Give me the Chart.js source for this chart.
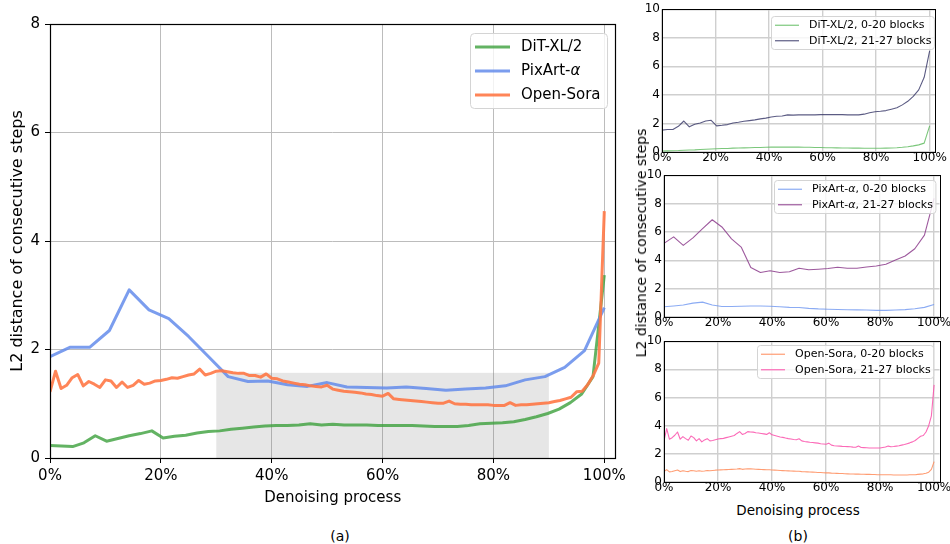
<!DOCTYPE html>
<html>
<head>
<meta charset="utf-8">
<script src="https://cdn.jsdelivr.net/npm/chart.js@4.4.1/dist/chart.umd.min.js"></script>
<style>
    body { margin: 0; background: #fff; font-family: "DejaVu Sans", sans-serif; }
    #wrap { position: relative; width: 950px; height: 544px; overflow: hidden; background: #fff; }
    canvas { position: absolute; }
    .lbl { position: absolute; color: #000; white-space: nowrap; transform: translate(-50%, -50%); }
</style>
</head>
<body>
<div id="wrap">
    <canvas id="main" width="630" height="515" style="left:0px;top:0px"></canvas>
    <canvas id="sub1" width="320" height="166" style="left:640px;top:0px"></canvas>
    <canvas id="sub2" width="320" height="166" style="left:640px;top:166px"></canvas>
    <canvas id="sub3" width="320" height="170" style="left:640px;top:332px"></canvas>
    <div class="lbl" style="left:641px;top:243px;font-size:14px;transform:translate(-50%,-50%) rotate(-90deg)">L2 distance of consecutive steps</div>
    <div class="lbl" style="left:798px;top:510px;font-size:13.5px">Denoising process</div>
    <div class="lbl" style="left:340px;top:536px;font-size:14px">(a)</div>
    <div class="lbl" style="left:798px;top:536px;font-size:14px">(b)</div>
</div>
<script>
// x ticks (percent of denoising process) and y ticks
const xTicks = [0, 20, 40, 60, 80, 100];
const mainYTicks = [0, 2, 4, 6, 8];
const subYTicks = [0, 2, 4, 6, 8, 10];

// shaded span in (a): from 30% to 90%, up to this height
const spanStart = 30;
const spanEnd = 90;
const spanTop = 1.57;

// (a) whole-model distances
const ditAll = [0.23, 0.22, 0.21, 0.28, 0.41, 0.31, 0.36, 0.41, 0.45, 0.50,
    0.37, 0.40, 0.42, 0.46, 0.49, 0.50, 0.53, 0.55, 0.57, 0.59,
    0.60, 0.60, 0.61, 0.63, 0.61, 0.62, 0.61, 0.61, 0.61, 0.60,
    0.60, 0.60, 0.60, 0.59, 0.58, 0.58, 0.58, 0.60, 0.63, 0.64,
    0.65, 0.67, 0.71, 0.76, 0.82, 0.90, 1.02, 1.18, 1.50, 3.37];
const pixartAll = [1.87, 2.04, 2.04, 2.35, 3.10, 2.73, 2.57, 2.24, 1.87, 1.50,
    1.41, 1.42, 1.35, 1.32, 1.39, 1.31, 1.30, 1.29, 1.31, 1.28,
    1.25, 1.27, 1.29, 1.33, 1.44, 1.50, 1.67, 1.98, 2.77];
const soraAll = [1.22, 1.60, 1.28, 1.34, 1.48, 1.54, 1.33, 1.41, 1.36, 1.30,
    1.44, 1.42, 1.30, 1.40, 1.30, 1.34, 1.43, 1.36, 1.38, 1.42,
    1.43, 1.45, 1.48, 1.47, 1.50, 1.53, 1.55, 1.64, 1.53, 1.56,
    1.60, 1.61, 1.59, 1.57, 1.56, 1.56, 1.52, 1.52, 1.49, 1.55,
    1.47, 1.46, 1.42, 1.40, 1.38, 1.36, 1.35, 1.33, 1.32, 1.31,
    1.34, 1.27, 1.25, 1.23, 1.22, 1.21, 1.20, 1.18, 1.17, 1.15,
    1.14, 1.19, 1.09, 1.08, 1.07, 1.06, 1.05, 1.04, 1.03, 1.02,
    1.01, 1.01, 1.05, 1.00, 0.99, 0.99, 0.98, 0.98, 0.98, 0.98,
    0.97, 0.97, 0.97, 1.02, 0.97, 0.98, 0.98, 0.99, 1.00, 1.01,
    1.02, 1.04, 1.06, 1.09, 1.12, 1.22, 1.23, 1.35, 1.52, 1.75,
    4.55];

// (b) split by blocks
const ditLow = [0.07, 0.08, 0.09, 0.10, 0.12, 0.14, 0.15, 0.17, 0.19, 0.21,
    0.23, 0.24, 0.25, 0.27, 0.28, 0.29, 0.30, 0.31, 0.32, 0.33,
    0.34, 0.34, 0.34, 0.34, 0.34, 0.34, 0.33, 0.33, 0.32, 0.31,
    0.30, 0.30, 0.29, 0.28, 0.28, 0.27, 0.27, 0.26, 0.26, 0.26,
    0.26, 0.27, 0.28, 0.30, 0.33, 0.37, 0.43, 0.50, 0.62, 1.83];
const ditHigh = [1.53, 1.58, 1.58, 1.80, 2.17, 1.76, 1.94, 2.03, 2.17, 2.22,
    1.83, 1.87, 1.92, 2.03, 2.08, 2.15, 2.20, 2.25, 2.32, 2.37,
    2.45, 2.50, 2.52, 2.60, 2.58, 2.60, 2.60, 2.60, 2.60, 2.62,
    2.62, 2.62, 2.62, 2.62, 2.60, 2.60, 2.60, 2.65, 2.75, 2.82,
    2.85, 2.90, 3.00, 3.10, 3.30, 3.55, 3.90, 4.35, 5.23, 7.08];
const pixartLow = [0.72, 0.78, 0.85, 0.98, 1.05, 0.85, 0.74, 0.74, 0.76, 0.78,
    0.78, 0.76, 0.72, 0.68, 0.67, 0.61, 0.57, 0.55, 0.53, 0.51,
    0.50, 0.49, 0.47, 0.47, 0.49, 0.52, 0.58, 0.68, 0.88];
const pixartHigh = [5.19, 5.65, 5.05, 5.58, 6.23, 6.86, 6.35, 5.51, 4.93, 3.49,
    3.14, 3.26, 3.14, 3.19, 3.44, 3.33, 3.37, 3.42, 3.51, 3.44,
    3.44, 3.53, 3.60, 3.72, 4.02, 4.30, 4.81, 5.77, 8.37];
const soraLow = [0.75, 0.88, 0.72, 0.75, 0.80, 0.85, 0.74, 0.80, 0.76, 0.74,
    0.82, 0.80, 0.76, 0.80, 0.76, 0.78, 0.82, 0.80, 0.82, 0.84,
    0.85, 0.86, 0.87, 0.88, 0.89, 0.90, 0.91, 0.92, 0.95, 0.90,
    0.92, 0.94, 0.93, 0.92, 0.91, 0.90, 0.89, 0.88, 0.87, 0.87,
    0.85, 0.84, 0.83, 0.82, 0.81, 0.80, 0.79, 0.78, 0.77, 0.76,
    0.76, 0.74, 0.73, 0.72, 0.71, 0.70, 0.69, 0.68, 0.67, 0.66,
    0.65, 0.65, 0.63, 0.62, 0.61, 0.60, 0.60, 0.59, 0.58, 0.57,
    0.57, 0.56, 0.56, 0.55, 0.55, 0.54, 0.54, 0.53, 0.53, 0.52,
    0.52, 0.51, 0.51, 0.51, 0.51, 0.50, 0.50, 0.50, 0.50, 0.50,
    0.50, 0.51, 0.51, 0.52, 0.54, 0.56, 0.58, 0.62, 0.70, 0.90,
    1.45];
const soraHigh = [2.92, 3.79, 3.04, 3.15, 3.32, 3.55, 3.04, 3.22, 3.08, 2.97,
    3.27, 3.15, 2.92, 3.08, 2.85, 2.99, 3.08, 2.92, 2.95, 3.00,
    3.05, 3.08, 3.10, 3.15, 3.20, 3.25, 3.30, 3.45, 3.58, 3.38,
    3.45, 3.58, 3.55, 3.54, 3.50, 3.48, 3.45, 3.42, 3.38, 3.50,
    3.35, 3.30, 3.25, 3.20, 3.17, 3.12, 3.08, 3.05, 3.02, 3.00,
    3.07, 2.92, 2.88, 2.85, 2.82, 2.80, 2.78, 2.76, 2.72, 2.70,
    2.68, 2.76, 2.62, 2.58, 2.56, 2.55, 2.53, 2.52, 2.51, 2.50,
    2.48, 2.47, 2.55, 2.45, 2.44, 2.43, 2.42, 2.42, 2.42, 2.42,
    2.42, 2.45, 2.48, 2.55, 2.50, 2.52, 2.55, 2.58, 2.62, 2.66,
    2.72, 2.78, 2.85, 2.95, 3.10, 3.25, 3.30, 3.55, 4.00, 4.70,
    6.90];

const FONT = '"DejaVu Sans", sans-serif';

// each step sits at its share of the denoising process
function toPoints(values) {
    return values.map((v, i) => ({ x: i / (values.length - 1) * 100, y: v }));
}

function labelParts(text) {
    return text.split(/(α)/).filter(s => s.length);
}

function partFont(part, size) {
    return (part === 'α' ? 'italic ' : '') + size + 'px ' + FONT;
}

function labelWidth(ctx, text, size) {
    let w = 0;
    labelParts(text).forEach(p => { ctx.font = partFont(p, size); w += ctx.measureText(p).width; });
    return w;
}

function drawLabel(ctx, text, x, y, size) {
    ctx.fillStyle = '#000';
    ctx.textBaseline = 'middle';
    ctx.textAlign = 'left';
    labelParts(text).forEach(p => {
        ctx.font = partFont(p, size);
        ctx.fillText(p, x, y);
        x += ctx.measureText(p).width;
    });
}

function roundRectPath(ctx, x, y, w, h, r) {
    ctx.beginPath();
    ctx.moveTo(x + r, y);
    ctx.lineTo(x + w - r, y);
    ctx.arcTo(x + w, y, x + w, y + r, r);
    ctx.lineTo(x + w, y + h - r);
    ctx.arcTo(x + w, y + h, x + w - r, y + h, r);
    ctx.lineTo(x + r, y + h);
    ctx.arcTo(x, y + h, x, y + h - r, r);
    ctx.lineTo(x, y + r);
    ctx.arcTo(x, y, x + r, y, r);
    ctx.closePath();
}

// grey band behind the lines, placed with the chart's own scales
const spanPlugin = {
    id: 'span',
    beforeDatasetsDraw(chart, args, opts) {
        if (!opts.show) return;
        const { ctx, scales: { x, y } } = chart;
        const x0 = x.getPixelForValue(spanStart), x1 = x.getPixelForValue(spanEnd);
        const y0 = y.getPixelForValue(spanTop), y1 = y.getPixelForValue(0);
        ctx.save();
        ctx.fillStyle = 'rgba(128,128,128,0.2)';
        ctx.fillRect(x0, y0, x1 - x0, y1 - y0);
        ctx.restore();
    }
};

// matplotlib style box around the plot area
const framePlugin = {
    id: 'frame',
    afterDraw(chart, args, opts) {
        const a = chart.chartArea, ctx = chart.ctx;
        ctx.save();
        ctx.strokeStyle = '#000';
        ctx.lineWidth = opts.width || 1;
        ctx.strokeRect(Math.round(a.left) + 0.5, Math.round(a.top) + 0.5,
            Math.round(a.right - a.left), Math.round(a.bottom - a.top));
        ctx.restore();
    }
};

// legend drawn inside the upper right corner
const boxLegendPlugin = {
    id: 'boxLegend',
    afterDraw(chart, args, o) {
        const ctx = chart.ctx, a = chart.chartArea;
        const sets = chart.data.datasets;
        ctx.save();
        const textW = Math.max(...sets.map(d => labelWidth(ctx, d.label, o.size)));
        const w = o.padL + o.sample + o.gap + textW + o.padR;
        const h = sets.length * o.rowH + o.padV * 2;
        const x0 = Math.round(a.right - o.right - w) + 0.5;
        const y0 = Math.round(a.top + o.top) + 0.5;
        roundRectPath(ctx, x0, y0, w, h, o.radius);
        ctx.fillStyle = 'rgba(255,255,255,0.8)';
        ctx.fill();
        ctx.strokeStyle = '#d4d4d4';
        ctx.lineWidth = 1;
        ctx.stroke();
        sets.forEach((d, i) => {
            const cy = y0 + o.padV + o.rowH * (i + 0.5);
            ctx.beginPath();
            ctx.moveTo(x0 + o.padL, cy);
            ctx.lineTo(x0 + o.padL + o.sample, cy);
            ctx.strokeStyle = d.borderColor;
            ctx.lineWidth = o.lineWidth || d.borderWidth;
            ctx.stroke();
            drawLabel(ctx, d.label, x0 + o.padL + o.sample + o.gap, cy, o.size);
        });
        ctx.restore();
    }
};

function lineSet(label, values, colour, width, order) {
    return {
        label: label,
        data: toPoints(values),
        borderColor: colour,
        backgroundColor: colour,
        borderWidth: width,
        pointRadius: 0,
        tension: 0,
        fill: false,
        order: order,
        borderJoinStyle: 'round'
    };
}

function fixTicks(list) {
    return function (scale) { scale.ticks = list.map(v => ({ value: v })); };
}

new Chart(document.getElementById('main'), {
    type: 'line',
    data: {
        datasets: [
            lineSet('DiT-XL/2', ditAll, 'rgba(60,160,60,0.8)', 3, 2),
            lineSet('PixArt-α', pixartAll, 'rgba(100,140,235,0.85)', 3, 1),
            lineSet('Open-Sora', soraAll, 'rgba(255,120,70,0.9)', 3, 0)
        ]
    },
    options: {
        responsive: false,
        animation: false,
        devicePixelRatio: 1,
        layout: { padding: { top: 24, right: 13, left: 0, bottom: 0 } },
        plugins: {
            legend: { display: false },
            tooltip: { enabled: false },
            span: { show: true },
            frame: { width: 1.2 },
            boxLegend: { size: 15, rowH: 24, padV: 1.5, padL: 4.5, sample: 35, gap: 11, padR: 7, right: 8, top: 9, radius: 4 }
        },
        scales: {
            x: {
                type: 'linear', min: 0, max: 102,
                afterBuildTicks: fixTicks(xTicks),
                afterFit(scale) { scale.height = 57; },
                grid: { color: '#bcbcbc', lineWidth: 1, tickLength: 5, tickColor: '#000' },
                border: { display: false },
                ticks: { font: { family: FONT, size: 15 }, color: '#000', padding: 4, maxRotation: 0, callback: v => v + '%' },
                title: { display: true, text: 'Denoising process', color: '#000', font: { family: FONT, size: 15 }, padding: { top: 0, bottom: 8 } }
            },
            y: {
                type: 'linear', min: 0, max: 8,
                afterBuildTicks: fixTicks(mainYTicks),
                afterFit(scale) { scale.width = 50; },
                grid: { color: '#bcbcbc', lineWidth: 1, tickLength: 5, tickColor: '#000' },
                border: { display: false },
                ticks: { font: { family: FONT, size: 15 }, color: '#000', padding: 5 },
                title: { display: true, text: 'L2 distance of consecutive steps', color: '#000', font: { family: FONT, size: 16 }, padding: { top: 8, bottom: 0 } }
            }
        }
    },
    plugins: [spanPlugin, framePlugin, boxLegendPlugin]
});

function makeSub(id, sets, g) {
    new Chart(document.getElementById(id), {
        type: 'line',
        data: { datasets: sets },
        options: {
            responsive: false,
            animation: false,
            devicePixelRatio: 1,
            layout: { padding: { top: g.top, right: g.right, left: 0, bottom: 0 } },
            plugins: {
                legend: { display: false },
                tooltip: { enabled: false },
                span: { show: false },
                frame: { width: 1 },
                boxLegend: { size: 11, rowH: 15.5, padV: 1, padL: 3.5, sample: 24, gap: 10, padR: 3, right: g.legRight, top: g.legTop, radius: 3, lineWidth: 1.2 }
            },
            scales: {
                x: {
                    type: 'linear', min: 0, max: 102,
                    afterBuildTicks: fixTicks(xTicks),
                    afterFit(scale) { scale.height = g.xh; },
                    grid: { color: '#cfcfcf', lineWidth: 1.4, drawTicks: false },
                    border: { display: false },
                    ticks: { font: { family: FONT, size: 12 }, color: '#000', padding: -1, maxRotation: 0, callback: v => v + '%' }
                },
                y: {
                    type: 'linear', min: 0, max: 10,
                    afterBuildTicks: fixTicks(subYTicks),
                    afterFit(scale) { scale.width = g.yw; },
                    grid: { color: '#cfcfcf', lineWidth: 1.4, drawTicks: false },
                    border: { display: false },
                    ticks: { font: { family: FONT, size: 12 }, color: '#000', padding: 2 }
                }
            }
        },
        plugins: [spanPlugin, framePlugin, boxLegendPlugin]
    });
}

makeSub('sub1', [
    lineSet('DiT-XL/2, 0-20 blocks', ditLow, 'rgba(90,185,90,0.8)', 1.1, 1),
    lineSet('DiT-XL/2, 21-27 blocks', ditHigh, 'rgba(50,50,100,0.8)', 1.1, 0)
], { top: 8, right: 25, yw: 22, xh: 14, legRight: 1, legTop: 7 });

makeSub('sub2', [
    lineSet('PixArt-α, 0-20 blocks', pixartLow, 'rgba(110,150,240,0.8)', 1.1, 1),
    lineSet('PixArt-α, 21-27 blocks', pixartHigh, 'rgba(140,60,140,0.85)', 1.1, 0)
], { top: 8, right: 20.5, yw: 24, xh: 15, legRight: 4, legTop: 5 });

makeSub('sub3', [
    lineSet('Open-Sora, 0-20 blocks', soraLow, 'rgba(255,140,90,0.85)', 1.1, 1),
    lineSet('Open-Sora, 21-27 blocks', soraHigh, 'rgba(250,80,170,0.85)', 1.1, 0)
], { top: 7, right: 20.5, yw: 24, xh: 20, legRight: 6, legTop: 4 });
</script>
</body>
</html>
